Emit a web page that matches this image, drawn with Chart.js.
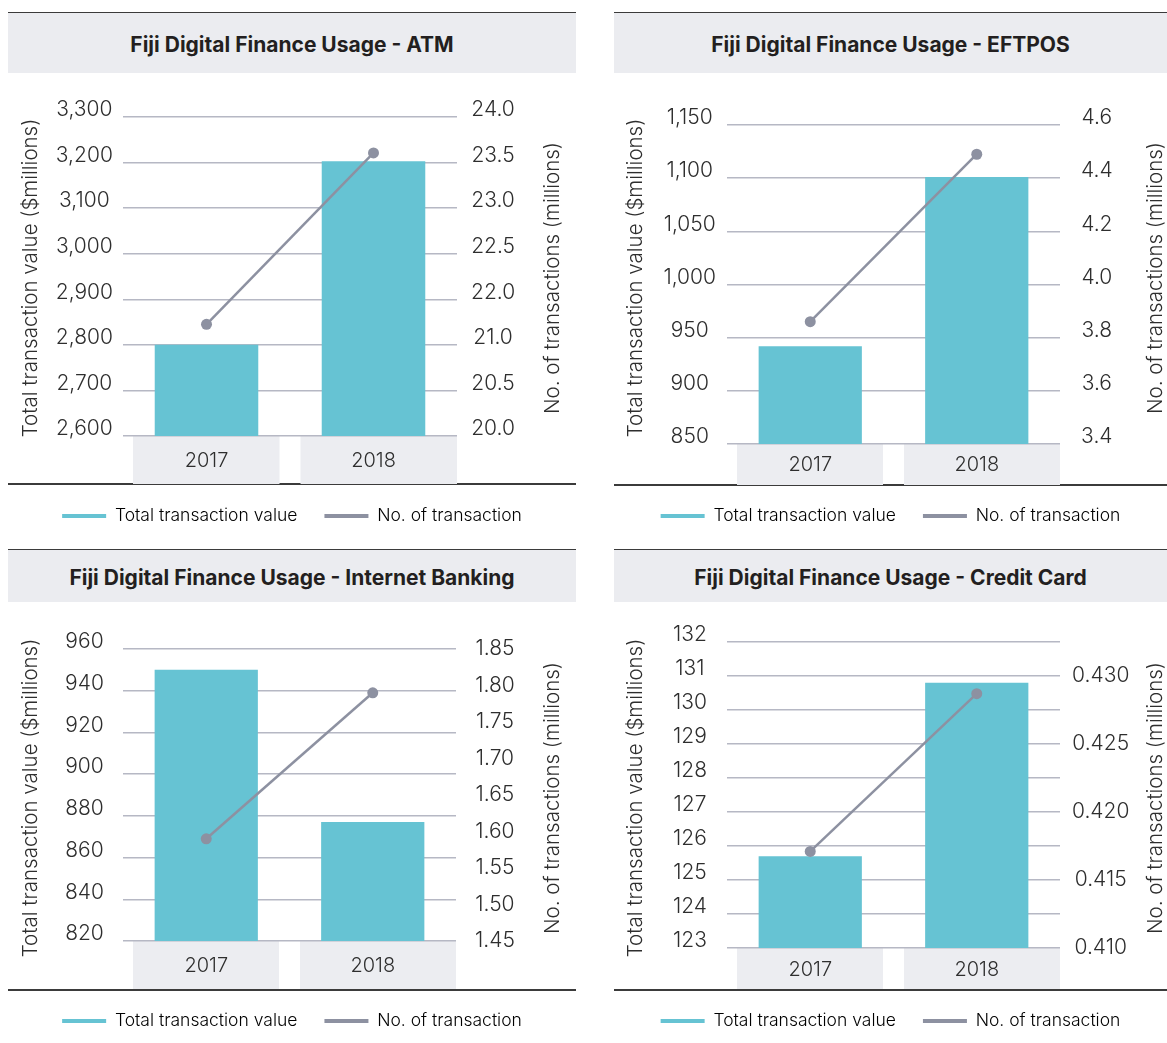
<!DOCTYPE html>
<html>
<head>
<meta charset="utf-8">
<title>Fiji Digital Finance Usage</title>
<script src="https://cdn.jsdelivr.net/npm/chart.js@4.4.1/dist/chart.umd.min.js"></script>
<style>
  html, body { margin: 0; padding: 0; background: #ffffff; }
  body { width: 1167px; height: 1043px; position: relative; overflow: hidden;
         font-family: Inter, "Open Sans", "DejaVu Sans", sans-serif; }
  .rule { position: absolute; height: 1.5px; background: #3b3b3b; }
  .band { position: absolute; background: #ebecf0; display: flex; align-items: center;
          justify-content: center; font-weight: 700; font-size: 21px; color: #231f20;
          box-sizing: border-box; padding-top: 2px; }
  canvas { position: absolute; }
</style>
</head>
<body>
<script>
// ---- data ----
const years = ['2017', '2018'];
const seriesNames = ['Total transaction value', 'No. of transaction'];
const leftAxisTitle = 'Total transaction value ($millions)';
const rightAxisTitle = 'No. of transactions (millions)';

const atmTitle = 'Fiji Digital Finance Usage - ATM';
const atmValue = [2800, 3203];
const atmCount = [21.4, 23.55];
const atmRightTicks = ['20.0', '20.5', '21.0', '22.0', '22.5', '23.0', '23.5', '24.0'];

const eftposTitle = 'Fiji Digital Finance Usage - EFTPOS';
const eftposValue = [942, 1101];
const eftposCount = [3.86, 4.49];

const ibTitle = 'Fiji Digital Finance Usage - Internet Banking';
const ibValue = [950, 877];
const ibCount = [1.59, 1.79];

const ccTitle = 'Fiji Digital Finance Usage - Credit Card';
const ccValue = [125.7, 130.8];
const ccCount = [0.4171, 0.4287];

// ---- styling ----
const FONT = "Inter, 'Open Sans', 'DejaVu Sans', sans-serif";
const BAR = '#66c3d3';
const LINE = '#8d91a1';
const GRID = '#b6b8c4';
const TEXT = '#2e2e2e';
const BOX = '#ecedf1';

// grey label boxes under each category
const categoryBoxes = {
  id: 'categoryBoxes',
  beforeDraw(chart, args, opts) {
    const { ctx, chartArea } = chart;
    const n = chart.data.labels.length;
    const w = (chartArea.right - chartArea.left) / n;
    ctx.save();
    ctx.fillStyle = opts.color;
    for (let i = 0; i < n; i++) {
      const x0 = chartArea.left + i * w + opts.insetL[i];
      const x1 = chartArea.left + (i + 1) * w - opts.insetR[i];
      ctx.fillRect(x0, chartArea.bottom, x1 - x0, opts.height);
    }
    ctx.restore();
  }
};

// vertical axis titles, both reading bottom to top
const sideTitles = {
  id: 'sideTitles',
  afterDraw(chart, args, opts) {
    const { ctx } = chart;
    ctx.save();
    ctx.fillStyle = opts.color;
    ctx.font = `${opts.weight} ${opts.size}px ${FONT}`;
    ctx.textAlign = 'center';
    ctx.textBaseline = 'middle';
    for (const t of opts.items) {
      ctx.save();
      ctx.translate(t.x, t.y);
      ctx.rotate(-Math.PI / 2);
      ctx.fillText(t.text, 0, 0);
      ctx.restore();
    }
    ctx.restore();
  }
};

const panels = [
  { title: atmTitle, left: 8, top: 73, w: 568, h: 470, band: 60, rule: 484,
    area: { top: 44, bottom: 363, left: 115, right: 449 }, legendY: 443, boxH: 48, xPad: 13,
    values: atmValue, counts: atmCount,
    yl: { min: 2600, max: 3300, stepSize: 100, fmt: v => v.toLocaleString('en-US'), pad: 10, off: -7 },
    yr: { min: 20, max: 24, count: 8, labels: atmRightTicks, pad: 14, off: -7 },
    titles: { lx: 23, rx: 545, y: 205 } },
  { title: eftposTitle, left: 614, top: 73, w: 553, h: 470, band: 60, rule: 485,
    area: { top: 52, bottom: 371, left: 113, right: 446 }, legendY: 443, boxH: 41, xPad: 9,
    values: eftposValue, counts: eftposCount,
    yl: { min: 850, max: 1150, stepSize: 50, fmt: v => v.toLocaleString('en-US'), pad: 11, off: -7 },
    yr: { min: 3.4, max: 4.6, stepSize: 0.2, fmt: v => v.toFixed(1), pad: 21, off: -7 },
    titles: { lx: 22, rx: 542, y: 205 } },
  { title: ibTitle, left: 8, top: 602, w: 568, h: 441, band: 52, rule: 990,
    area: { top: 47, bottom: 339, left: 115, right: 448 }, legendY: 419, boxH: 48, xPad: 13,
    values: ibValue, counts: ibCount,
    yl: { min: 820, max: 960, stepSize: 20, fmt: v => v.toLocaleString('en-US'), pad: 19, off: -7 },
    yr: { min: 1.45, max: 1.85, stepSize: 0.05, fmt: v => v.toFixed(2), pad: 19, off: 0 },
    titles: { lx: 23, rx: 545, y: 196 } },
  { title: ccTitle, left: 614, top: 602, w: 553, h: 441, band: 52, rule: 990,
    area: { top: 40, bottom: 346, left: 113, right: 446 }, legendY: 419, boxH: 41, xPad: 10,
    values: ccValue, counts: ccCount,
    yl: { min: 123, max: 132, stepSize: 1, fmt: v => v.toLocaleString('en-US'), pad: 20, off: -7 },
    yr: { min: 0.410, max: 0.4325, stepSize: 0.005, fmt: v => v.toFixed(3), pad: 12, off: 0, noBounds: true },
    titles: { lx: 22, rx: 542, y: 196 } }
];

function addRule(x, y, w) {
  const d = document.createElement('div');
  d.className = 'rule';
  d.style.left = x + 'px'; d.style.top = y + 'px'; d.style.width = w + 'px';
  document.body.appendChild(d);
}

function buildPanel(p) {
  // title band and rules
  const bandTop = p.top - p.band;
  addRule(p.left, bandTop - 1.5, p.w);
  const band = document.createElement('div');
  band.className = 'band';
  band.style.left = p.left + 'px'; band.style.top = bandTop + 'px';
  band.style.width = p.w + 'px'; band.style.height = p.band + 'px';
  band.textContent = p.title;
  document.body.appendChild(band);
  addRule(p.left, p.rule - 0.75, p.w);

  const cv = document.createElement('canvas');
  cv.width = p.w; cv.height = p.h;
  cv.style.left = p.left + 'px'; cv.style.top = p.top + 'px';
  cv.style.width = p.w + 'px'; cv.style.height = p.h + 'px';
  document.body.appendChild(cv);

  const legendFont = 17.5, legendPad = 27;
  const legendH = legendFont + legendPad + 10;
  const legendTop = p.legendY - legendPad - legendFont / 2;
  const padBottom = p.h - (legendTop + legendH);
  const xAxisH = legendTop - p.area.bottom;
  const leftW = p.area.left, rightW = p.w - p.area.right;

  const tickFont = { family: FONT, size: 21, weight: '300' };

  const yRight = {
    position: 'right', min: p.yr.min, max: p.yr.max,
    grid: { display: false, drawTicks: false }, border: { display: false },
    ticks: { font: tickFont, color: TEXT, padding: p.yr.pad, crossAlign: 'center', labelOffset: p.yr.off },
    afterFit: s => { s.width = rightW; }
  };
  if (p.yr.labels) {
    yRight.ticks.count = p.yr.count;
    yRight.ticks.callback = (v, i) => p.yr.labels[i];
  } else {
    yRight.ticks.stepSize = p.yr.stepSize;
    yRight.ticks.callback = v => p.yr.fmt(v);
    if (p.yr.noBounds) yRight.ticks.includeBounds = false;
  }

  new Chart(cv, {
    data: {
      labels: years,
      datasets: [
        { type: 'bar', label: seriesNames[0], data: p.values, yAxisID: 'yL',
          backgroundColor: BAR, borderWidth: 0, order: 2,
          categoryPercentage: 1, barPercentage: 0.62 },
        { type: 'line', label: seriesNames[1], data: p.counts, yAxisID: 'yR',
          borderColor: LINE, backgroundColor: LINE, borderWidth: 2.5,
          pointRadius: 5.5, pointBackgroundColor: LINE, pointBorderWidth: 0, order: 1 }
      ]
    },
    options: {
      responsive: false, animation: false, devicePixelRatio: 1,
      layout: { padding: { top: p.area.top, bottom: padBottom, left: 0, right: 0 } },
      scales: {
        x: {
          grid: { display: false, drawTicks: false }, border: { display: false },
          ticks: { font: { family: FONT, size: 20, weight: '300' }, color: TEXT, padding: p.xPad },
          afterFit: s => { s.height = xAxisH; }
        },
        yL: {
          position: 'left', min: p.yl.min, max: p.yl.max,
          grid: { color: GRID, lineWidth: 1.5, drawTicks: false }, border: { display: false },
          ticks: { font: tickFont, color: TEXT, stepSize: p.yl.stepSize, padding: p.yl.pad,
                   crossAlign: 'center', labelOffset: p.yl.off, callback: v => p.yl.fmt(v) },
          afterFit: s => { s.width = leftW; }
        },
        yR: yRight
      },
      plugins: {
        tooltip: { enabled: false },
        legend: {
          position: 'bottom',
          labels: {
            font: { family: FONT, size: legendFont, weight: '300' }, color: TEXT,
            boxWidth: 44, boxHeight: 4, padding: legendPad,
            generateLabels: chart => chart.data.datasets.map((ds, i) => ({
              text: ds.label, fillStyle: i === 0 ? BAR : LINE, strokeStyle: i === 0 ? BAR : LINE,
              lineWidth: 0, hidden: false, datasetIndex: i
            }))
          }
        },
        categoryBoxes: { color: BOX, height: p.boxH, insetL: [10, 10.5], insetR: [10.5, 0] },
        sideTitles: {
          color: TEXT, size: 20.5, weight: '300',
          items: [
            { text: leftAxisTitle, x: p.titles.lx, y: p.titles.y },
            { text: rightAxisTitle, x: p.titles.rx, y: p.titles.y }
          ]
        }
      }
    },
    plugins: [categoryBoxes, sideTitles]
  });
}

panels.forEach(buildPanel);
</script>
</body>
</html>
